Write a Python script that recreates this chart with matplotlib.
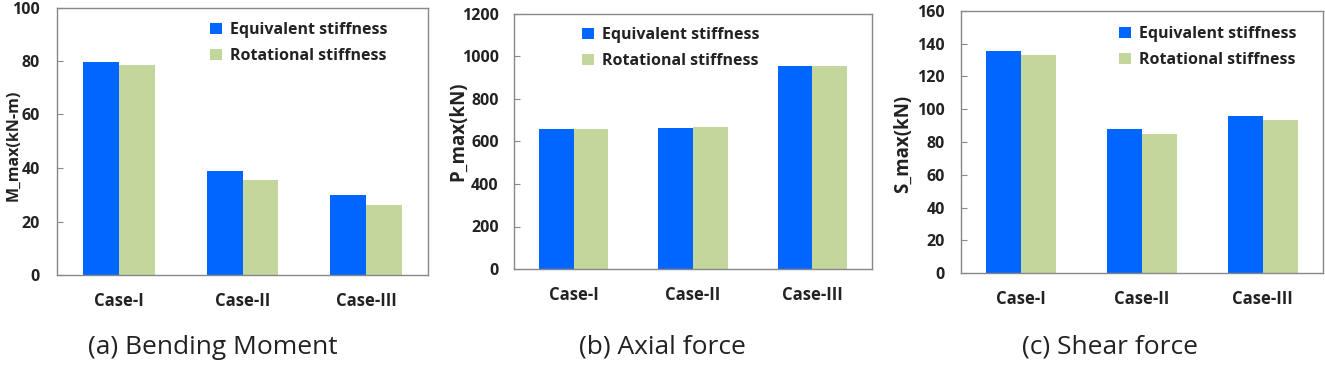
import matplotlib
matplotlib.use("Agg")
import matplotlib.pyplot as plt
from matplotlib.patches import Patch
import numpy as np

categories = ["Case-I", "Case-II", "Case-III"]
series_names = ["Equivalent stiffness", "Rotational stiffness"]

moment_eq = [79.7, 38.8, 30.0]
moment_rot = [78.5, 35.7, 26.0]
axial_eq = [659, 663, 955]
axial_rot = [659, 668, 955]
shear_eq = [135.4, 87.9, 96.0]
shear_rot = [132.8, 84.7, 93.4]

ylabels = ["M_max(kN-m)", "P_max(kN)", "S_max(kN)"]
captions = ["(a) Bending Moment", "(b) Axial force", "(c) Shear force"]
ylims = [(0, 100), (0, 1200), (0, 160)]
yticks = [np.arange(0, 101, 20), np.arange(0, 1201, 200), np.arange(0, 161, 20)]

BLUE = "#0066FF"
GREEN = "#C3D69B"
TXT = "#222222"
SPINE = "#888888"

plt.rcParams["font.family"] = ["Open Sans", "DejaVu Sans"]

W, H = 1325, 375
fig = plt.figure(figsize=(W / 100, H / 100), dpi=100)

def frac(l, r, t, b):
    return [l / W, (H - b) / H, (r - l) / W, (b - t) / H]

rects = [frac(57, 428, 7.5, 275), frac(514, 872, 14, 269), frac(961, 1323, 10.7, 273.3)]
ylabel_xy = [(-0.097, 0.486), (-0.128, 0.541), (-0.133, 0.492)]
ylabel_sizes = [11.5, 13.5, 13.5]
ypads = [12.5, 11, 11.5]
legend_anchor = [(210, 22), (582, 27), (1119, 26)]
caption_pos = [(213, 347), (662, 347), (1110, 347)]

data = [(moment_eq, moment_rot), (axial_eq, axial_rot), (shear_eq, shear_rot)]

x = np.arange(len(categories))
bw = 0.29

for i in range(3):
    ax = fig.add_axes(rects[i])
    eq, rot = data[i]
    ax.bar(x - bw / 2, eq, width=bw, color=BLUE, edgecolor="none", label=series_names[0])
    ax.bar(x + bw / 2, rot, width=bw, color=GREEN, edgecolor="none", label=series_names[1])
    ax.set_xlim(-0.5, 2.5)
    ax.set_ylim(*ylims[i])
    ax.set_yticks(yticks[i])
    ax.set_xticks(x)
    ax.set_xticklabels(categories, fontsize=12, fontweight="bold", color=TXT)
    for lab in ax.get_yticklabels():
        lab.set_fontsize(11.5)
        lab.set_fontweight("bold")
        lab.set_color(TXT)
    ax.tick_params(axis="y", direction="in", length=4, width=0.8, color=SPINE, pad=ypads[i])
    ax.tick_params(axis="x", length=0, pad=12)
    for s in ax.spines.values():
        s.set_color(SPINE)
        s.set_linewidth(1.0)
    ax.set_ylabel(ylabels[i], fontsize=ylabel_sizes[i], fontweight="bold", color=TXT)
    ax.yaxis.set_label_coords(*ylabel_xy[i])

    lx, ly = legend_anchor[i]
    handles = [Patch(facecolor=BLUE, edgecolor="none"), Patch(facecolor=GREEN, edgecolor="none")]
    ax.legend(handles, series_names, loc="upper left",
              bbox_to_anchor=(lx / W, (H - ly) / H), bbox_transform=fig.transFigure,
              frameon=False, borderpad=0, borderaxespad=0,
              handlelength=0.72, handleheight=0.72, handletextpad=0.55,
              labelspacing=0.62,
              prop={"family": ["Open Sans", "DejaVu Sans"], "weight": "bold", "size": 11.5},
              labelcolor=TXT)

    cx, cy = caption_pos[i]
    fig.text(cx / W, (H - cy) / H, captions[i], ha="center", va="center",
             fontsize=19, color=TXT)

fig.savefig("out.png", dpi=100)
